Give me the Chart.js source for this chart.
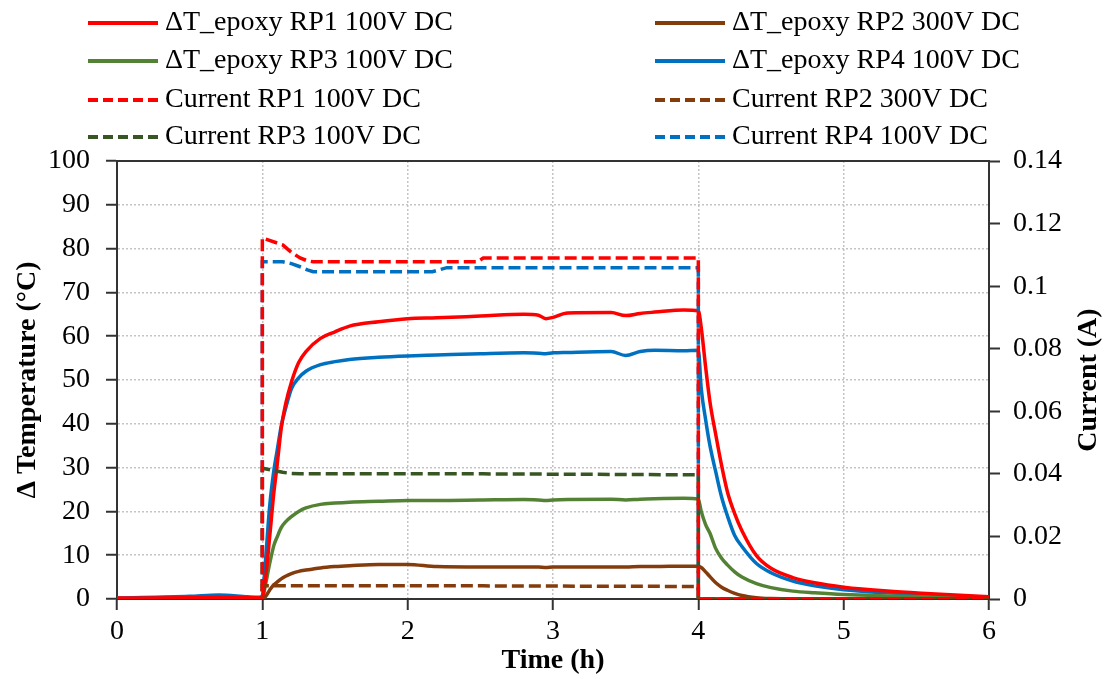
<!DOCTYPE html>
<html>
<head>
<meta charset="utf-8">
<script src="https://cdn.jsdelivr.net/npm/chart.js@4.4.0/dist/chart.umd.min.js"></script>
<style>
  html, body { margin: 0; padding: 0; background: #fff; }
</style>
</head>
<body>
<canvas id="myChart" width="1105" height="679"></canvas>
<script>
// time axis (h) for the temperature traces
const timeT = [0, 0.5, 0.7, 0.9, 0.98, 1.0, 1.02, 1.05, 1.08, 1.1, 1.13, 1.16, 1.2, 1.25, 1.3,
  1.4, 1.5, 1.6, 1.8, 2.0, 2.2, 2.5, 2.8, 2.9, 2.95, 3.0, 3.1, 3.4, 3.5, 3.6, 3.7, 3.9, 4.0,
  4.02, 4.05, 4.08, 4.12, 4.16, 4.2, 4.25, 4.3, 4.4, 4.5, 4.65, 4.8, 5.0, 5.3, 5.6, 6.0];

const tempRP1 = [0.2, 0.3, 0.4, 0.3, 0.3, 0.5, 4, 14, 24.5, 30, 39, 44.5, 49.5, 54, 56.5,
  59.5, 61, 62.3, 63.3, 64, 64.2, 64.6, 65, 64.8, 64, 64.3, 65.3, 65.4, 64.7, 65.2, 65.5, 66, 65.8,
  62, 53, 45, 37.5, 30.5, 24.5, 19.5, 15.6, 9.9, 7, 4.9, 3.7, 2.7, 1.8, 1.2, 0.5];
const tempRP2 = [0, 0, 0, 0, 0, 0, 0.5, 2, 3.3, 3.8, 4.6, 5.2, 5.8, 6.3, 6.6,
  7.1, 7.4, 7.6, 7.9, 7.9, 7.4, 7.3, 7.3, 7.3, 7.2, 7.3, 7.3, 7.3, 7.3, 7.4, 7.4, 7.5, 7.5,
  7.2, 6.2, 5.1, 3.7, 2.7, 2.0, 1.3, 0.8, 0.3, 0.1, 0, 0, 0, 0, 0, 0];
const tempRP3 = [0, 0.1, 0.1, 0.1, 0.1, 0.3, 3, 8, 12.3, 14, 16.3, 17.6, 18.8, 20, 20.8,
  21.6, 21.9, 22.1, 22.3, 22.5, 22.5, 22.6, 22.7, 22.6, 22.5, 22.6, 22.7, 22.8, 22.6, 22.8, 22.9, 23, 22.8,
  20, 17, 15, 11.5, 9.3, 7.8, 6.2, 5, 3.5, 2.6, 1.8, 1.4, 1.0, 0.7, 0.5, 0.3];
const tempRP4 = [0.2, 0.6, 0.9, 0.5, 0.4, 0.8, 8, 21, 29.5, 33.5, 39.5, 43.5, 48, 50.5, 52,
  53.5, 54.2, 54.7, 55.2, 55.5, 55.7, 56, 56.2, 56.1, 56, 56.2, 56.3, 56.5, 55.6, 56.5, 56.8, 56.7, 56.8,
  48, 41, 35, 29, 23.3, 19, 14.5, 12, 8.1, 6, 4.1, 3, 2.1, 1.4, 0.9, 0.4];

// time axis (h) for the current traces
const timeI = [0, 1.0, 1.0, 1.14, 1.2, 1.26, 1.31, 1.35, 2.17, 2.27, 2.48, 2.52, 4.0, 4.0, 6.0];
const currRP1 = [0, 0, 0.1154, 0.1132, 0.1108, 0.109, 0.1081, 0.1078, 0.1078, 0.1078, 0.1078, 0.109, 0.109, 0, 0];
const currRP2 = [0, 0, 0.0042, 0.0042, 0.0042, 0.0042, 0.0042, 0.0042, 0.0042, 0.0042, 0.0042, 0.0042, 0.0040, 0, 0];
const currRP3 = [0, 0, 0.0418, 0.0405, 0.0401, 0.040, 0.040, 0.040, 0.040, 0.040, 0.040, 0.040, 0.0397, 0, 0];
const currRP4 = [0, 0, 0.1078, 0.1078, 0.1072, 0.1062, 0.1052, 0.1046, 0.1046, 0.1059, 0.1059, 0.1059, 0.1059, 0, 0];

const serif = '"Liberation Serif", "Times New Roman", serif';
const axisColor = "#333";
const gridColor = "#c4c4c4";

const pts = (xs, ys) => xs.map((x, i) => ({ x: x, y: ys[i] }));

const tempLine = (label, ys, color) => ({
  label: label,
  data: pts(timeT, ys),
  borderColor: color,
  borderWidth: 3.5,
  yAxisID: "y",
  order: 2,
  cubicInterpolationMode: "monotone",
});
const currLine = (label, ys, color) => ({
  label: label,
  data: pts(timeI, ys),
  borderColor: color,
  borderWidth: 3.5,
  borderDash: [12, 5],
  yAxisID: "y1",
  order: 1,
  tension: 0,
});

const data01 = {
  datasets: [
    tempLine("ΔT_epoxy RP1 100V DC", tempRP1, "#ff0000"),
    tempLine("ΔT_epoxy RP2 300V DC", tempRP2, "#843c0c"),
    tempLine("ΔT_epoxy RP3 100V DC", tempRP3, "#548235"),
    tempLine("ΔT_epoxy RP4 100V DC", tempRP4, "#0070c0"),
    currLine("Current RP1 100V DC", currRP1, "#ff0000"),
    currLine("Current RP2 300V DC", currRP2, "#843c0c"),
    currLine("Current RP3 100V DC", currRP3, "#375623"),
    currLine("Current RP4 100V DC", currRP4, "#0070c0"),
  ],
};

// legend in two columns plus the three axis titles
const legendAndTitles = {
  id: "legendAndTitles",
  afterDraw(chart) {
    const ctx = chart.ctx;
    const area = chart.chartArea;
    const rows = [23, 61, 100, 137];
    ctx.save();
    ctx.fillStyle = "#000";
    ctx.textBaseline = "middle";
    ctx.textAlign = "left";
    ctx.font = "28px " + serif;
    chart.data.datasets.forEach((ds, i) => {
      const lx = i % 2 ? 655 : 88;
      const ly = rows[Math.floor(i / 2)];
      ctx.strokeStyle = ds.borderColor;
      ctx.lineWidth = 4;
      ctx.setLineDash(ds.borderDash ? [10, 5] : []);
      ctx.beginPath();
      ctx.moveTo(lx, ly);
      ctx.lineTo(lx + 70, ly);
      ctx.stroke();
      ctx.setLineDash([]);
      ctx.fillText(ds.label, lx + 77, ly);
    });

    const midY = (area.top + area.bottom) / 2;
    ctx.font = "bold 28px " + serif;
    ctx.textAlign = "center";
    ctx.fillText("Time (h)", (area.left + area.right) / 2, 661);

    ctx.save();
    ctx.translate(28, midY);
    ctx.rotate(-Math.PI / 2);
    ctx.fillText("Δ Temperature (°C)", 0, 0);
    ctx.restore();

    ctx.save();
    ctx.translate(1089, midY);
    ctx.rotate(-Math.PI / 2);
    ctx.fillText("Current (A)", 0, 0);
    ctx.restore();
    ctx.restore();
  },
};

const tickFont = { family: serif, size: 28 };

const config01 = {
  type: "line",
  data: data01,
  options: {
    responsive: false,
    animation: false,
    layout: { padding: { top: 161, left: 0, right: 0, bottom: 0 } },
    elements: { point: { radius: 0 } },
    plugins: {
      legend: { display: false },
      tooltip: { enabled: false },
    },
    scales: {
      x: {
        type: "linear",
        position: "bottom",
        min: 0,
        max: 6,
        ticks: { stepSize: 1, font: tickFont, color: "#000", padding: 5, maxRotation: 0 },
        grid: { color: gridColor, lineWidth: 1.5, tickColor: axisColor, tickLength: 11, tickWidth: 2, tickBorderDash: [] },
        border: { color: axisColor, width: 2, dash: [2, 2] },
        afterFit: (s) => { s.height = 80; },
      },
      x2: {
        type: "linear",
        position: "top",
        min: 0,
        max: 6,
        ticks: { display: false },
        grid: { display: false },
        border: { display: true, color: axisColor, width: 2 },
        afterFit: (s) => { s.height = 0; },
      },
      y: {
        position: "left",
        min: 0,
        max: 100,
        ticks: { stepSize: 10, font: tickFont, color: "#000", padding: 16 },
        grid: { color: gridColor, lineWidth: 1.5, tickColor: axisColor, tickLength: 11, tickWidth: 2, tickBorderDash: [] },
        border: { color: axisColor, width: 2, dash: [2, 2] },
        afterFit: (s) => { s.width = 117; },
      },
      y1: {
        position: "right",
        min: 0,
        max: 0.14,
        ticks: {
          stepSize: 0.02,
          font: tickFont,
          color: "#000",
          padding: 13,
          callback: (v) => String(+v.toFixed(2)),
        },
        grid: { drawOnChartArea: false, tickColor: axisColor, tickLength: 11, tickWidth: 2 },
        border: { color: axisColor, width: 2 },
        afterFit: (s) => { s.width = 116; },
      },
    },
  },
  plugins: [legendAndTitles],
};

const chart01 = new Chart(document.getElementById("myChart"), config01);
</script>
</body>
</html>
